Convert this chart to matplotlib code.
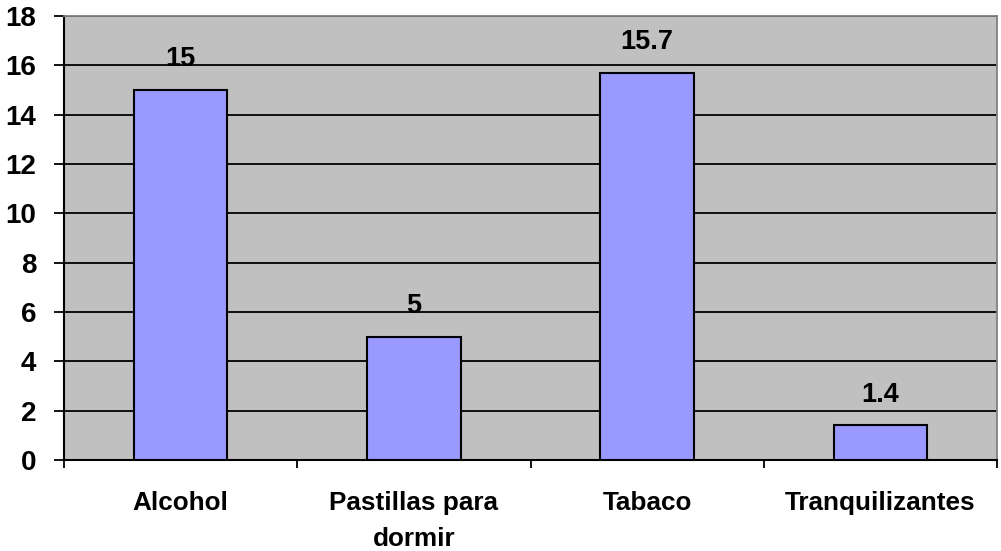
import matplotlib
matplotlib.use("Agg")
import matplotlib.pyplot as plt
import numpy as np

categories = ["Alcohol", "Pastillas para\ndormir", "Tabaco", "Tranquilizantes"]
values = [15, 5, 15.7, 1.4]
value_labels = ["15", "5", "15.7", "1.4"]
yticks = [0, 2, 4, 6, 8, 10, 12, 14, 16, 18]

plt.rcParams['font.family'] = ['Liberation Sans', 'DejaVu Sans']

fig = plt.figure(figsize=(10.01, 5.51), dpi=100)
ax = fig.add_axes([64 / 1001, 1 - 460 / 551, (997 - 64) / 1001, (460 - 16) / 551])
ax.set_facecolor("#C0C0C0")

x = np.arange(len(categories))
ax.bar(x, values, width=0.4, color="#9999FF", edgecolor="black", linewidth=1.5, zorder=3)

for xi, v, lab in zip(x, values, value_labels):
    ax.annotate(lab, (xi, v), xytext=(0, 22), textcoords="offset points",
                ha="center", va="center", fontsize=19.5, fontweight="bold")

ax.set_ylim(0, 18)
ax.set_xlim(-0.5, len(categories) - 0.5)
ax.set_yticks(yticks)
ax.set_yticklabels([str(t) for t in yticks], fontsize=20, fontweight="bold")
ax.yaxis.grid(True, color="black", linewidth=1.3, zorder=1)
ax.set_axisbelow(True)

# category boundaries get the ticks, labels sit at the centres
ax.set_xticks(np.arange(len(categories) + 1) - 0.5)
ax.set_xticklabels([])
ax.set_xticks(x, minor=True)
ax.set_xticklabels(categories, minor=True, fontsize=18.8, fontweight="bold", linespacing=1.65)
ax.tick_params(axis="x", which="major", direction="out", length=6, width=1.3)
ax.tick_params(axis="x", which="minor", length=0, pad=22)
ax.tick_params(axis="y", direction="out", length=7, width=1.3, pad=13)

for s in ("left", "bottom"):
    ax.spines[s].set_color("black")
    ax.spines[s].set_linewidth(1.5)
for s in ("top", "right"):
    ax.spines[s].set_color("#808080")
    ax.spines[s].set_linewidth(1.3)

fig.savefig("out.png", dpi=100)
